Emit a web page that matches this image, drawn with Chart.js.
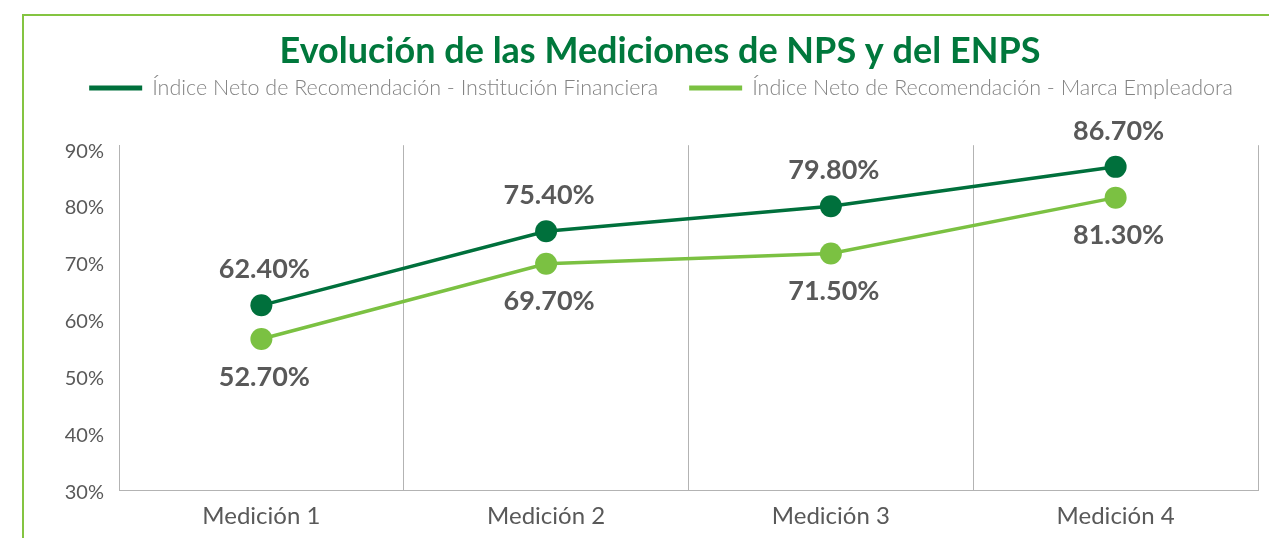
<!DOCTYPE html>
<html lang="es">
<head>
<meta charset="utf-8">
<title>Evolución NPS / ENPS</title>
<script src="https://cdn.jsdelivr.net/npm/chart.js@4.4.1/dist/chart.umd.min.js"></script>
<style>
    body { margin: 0; background: #fff; overflow: hidden; }
    #marco {
        position: absolute; left: 22px; top: 14px;
        width: 1400px; height: 700px;
        border-top: 2px solid #84c441;
        border-left: 2px solid #84c441;
    }
    #grafico { position: absolute; left: 0; top: 0; }
</style>
</head>
<body>
<div id="marco"></div>
<canvas id="grafico" width="1269" height="538"></canvas>
<script>
// Datos
const categorias = ['Medición 1', 'Medición 2', 'Medición 3', 'Medición 4'];
const serieFinanciera = [62.4, 75.4, 79.8, 86.7];
const serieEmpleadora = [56.5, 69.7, 71.5, 81.3];
const textoFinanciera = ['62.40%', '75.40%', '79.80%', '86.70%'];
const textoEmpleadora = ['52.70%', '69.70%', '71.50%', '81.30%'];
const ticksY = [30, 40, 50, 60, 70, 80, 90];
const nombresSeries = [
    'Índice Neto de Recomendación - Institución Financiera',
    'Índice Neto de Recomendación - Marca Empleadora'
];

const verdeOscuro = '#00703c';
const verdeClaro = '#7bc142';
const grisTexto = '#595959';
const grisLinea = '#b3b3b3';

//Etiquetas de valor encima (serie oscura) y debajo (serie clara) de cada punto
const etiquetasValor = {
    id: 'etiquetasValor',
    afterDatasetsDraw(chart) {
        const ctx = chart.ctx;
        ctx.save();
        ctx.font = 'bold 27px Lato';
        ctx.fillStyle = grisTexto;
        ctx.textAlign = 'center';
        ctx.textBaseline = 'middle';
        chart.getDatasetMeta(0).data.forEach(function (p, i) {
            ctx.fillText(textoFinanciera[i], p.x + 3, p.y - 36);
        });
        chart.getDatasetMeta(1).data.forEach(function (p, i) {
            ctx.fillText(textoEmpleadora[i], p.x + 3, p.y + 38);
        });
        ctx.restore();
    }
};

//Leyenda dibujada a mano para poder separar los elementos como en el original
const leyenda = {
    id: 'leyenda',
    afterDraw(chart) {
        const ctx = chart.ctx;
        const anchoCaja = 53, separacion = 10, entreItems = 31, y = 88;
        ctx.save();
        ctx.font = '300 21.5px Lato';
        ctx.textBaseline = 'middle';
        let total = 0;
        chart.data.datasets.forEach(function (ds, i) {
            total += anchoCaja + separacion + ctx.measureText(ds.label).width;
            if (i > 0) total += entreItems;
        });
        let x = 661 - total / 2;
        chart.data.datasets.forEach(function (ds) {
            ctx.fillStyle = ds.borderColor;
            ctx.fillRect(x, y - 2.5, anchoCaja, 5);
            x += anchoCaja + separacion;
            ctx.fillStyle = '#838383';
            ctx.fillText(ds.label, x, y);
            x += ctx.measureText(ds.label).width + entreItems;
        });
        ctx.restore();
    }
};

const ctx = document.getElementById('grafico').getContext('2d');
const grafico = new Chart(ctx, {
    type: 'line',
    data: {
        labels: categorias,
        datasets: [{
            label: nombresSeries[0],
            data: serieFinanciera,
            borderColor: verdeOscuro,
            backgroundColor: verdeOscuro,
            borderWidth: 3.5,
            pointRadius: 11,
            pointBorderWidth: 0,
            tension: 0
        }, {
            label: nombresSeries[1],
            data: serieEmpleadora,
            borderColor: verdeClaro,
            backgroundColor: verdeClaro,
            borderWidth: 3.5,
            pointRadius: 11,
            pointBorderWidth: 0,
            tension: 0
        }]
    },
    options: {
        responsive: false,
        animation: false,
        layout: {
            padding: { left: 62, right: 11, top: 0, bottom: 0 }
        },
        plugins: {
            legend: { display: false },
            tooltip: { enabled: false },
            title: {
                display: true,
                text: 'Evolución de las Mediciones de NPS y del ENPS',
                color: '#00783c',
                font: { family: 'Lato', size: 36, weight: 'bold' },
                padding: { top: 30, bottom: 72 }
            }
        },
        scales: {
            x: {
                offset: true,
                grid: { display: true, offset: true, color: grisLinea, lineWidth: 1, drawTicks: false },
                border: { display: true, color: grisLinea, width: 1 },
                ticks: { color: grisTexto, font: { family: 'Lato', size: 24 }, padding: 12 },
                afterFit: function (scale) { scale.height = 48; }
            },
            y: {
                min: 30,
                max: 90.5,
                grid: { display: false, drawTicks: false },
                border: { display: true, color: grisLinea, width: 1 },
                ticks: {
                    color: grisTexto,
                    font: { family: 'Lato', size: 20 },
                    padding: 15,
                    labelOffset: 3,
                    callback: function (v) { return v + '%'; }
                },
                afterBuildTicks: function (scale) {
                    scale.ticks = ticksY.map(function (v) { return { value: v }; });
                },
                afterFit: function (scale) { scale.width = 57; }
            }
        }
    },
    plugins: [etiquetasValor, leyenda]
});
</script>
</body>
</html>
